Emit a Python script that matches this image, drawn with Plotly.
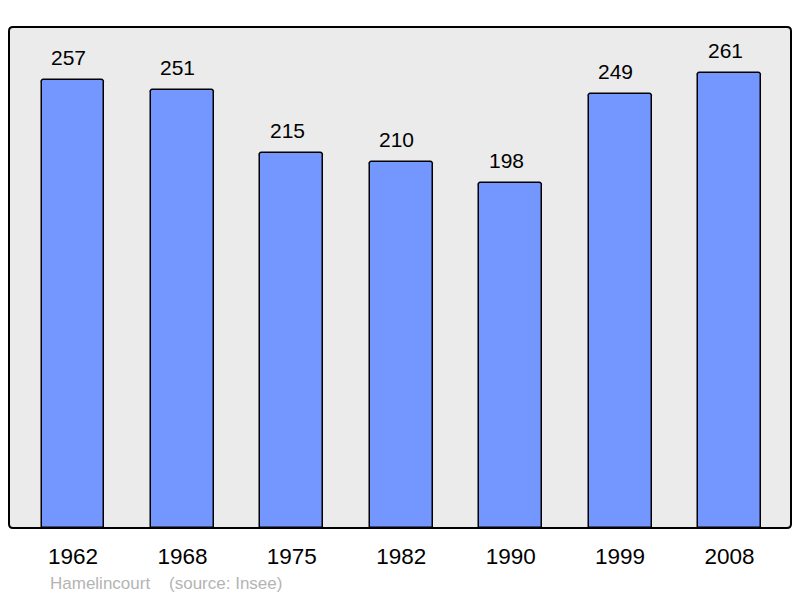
import plotly.graph_objects as go

years = ["1962", "1968", "1975", "1982", "1990", "1999", "2008"]
population = [257, 251, 215, 210, 198, 249, 261]
source_text = "Hamelincourt\u00a0\u00a0\u00a0\u00a0(source: Insee)"

xpos = list(range(len(years)))

fig = go.Figure()
fig.add_trace(go.Bar(
    x=xpos, y=population, width=0.575,
    marker=dict(color="#7396ff", line=dict(color="#000000", width=1.5), cornerradius=3),
    hoverinfo="skip",
))

for i, v in zip(xpos, population):
    fig.add_annotation(x=i, y=v, text=str(v), showarrow=False, yanchor="bottom",
                       yshift=9, xshift=-4.5,
                       font=dict(family="Liberation Sans, Arial", size=21, color="#000"))

fig.add_annotation(xref="paper", yref="paper", x=(48 - 9) / 782, y=-0.1098, xanchor="left",
                   yanchor="middle", text=source_text, showarrow=False,
                   font=dict(family="Liberation Sans, Arial", size=17, color="#b4b4b4"))

# rounded frame around the plot area
pw, ph, r = 782.0, 501.0, 4.0
rx, ry = r / pw, r / ph
path = (f"M {rx},0 L {1-rx},0 Q 1,0 1,{ry} L 1,{1-ry} Q 1,1 {1-rx},1 "
        f"L {rx},1 Q 0,1 0,{1-ry} L 0,{ry} Q 0,0 {rx},0 Z")
fig.add_shape(type="path", xref="paper", yref="paper", path=path,
              line=dict(color="#000", width=2), layer="above")

fig.update_layout(
    width=792, height=590,
    margin=dict(l=1, r=9, t=19, b=70),
    paper_bgcolor="#ffffff", plot_bgcolor="#ebebeb",
    showlegend=False, bargap=0,
    xaxis=dict(range=[-0.585, 6.562], tickvals=xpos, ticktext=years, showgrid=False,
               zeroline=False, showline=False, ticks="outside", ticklen=8,
               tickcolor="rgba(0,0,0,0)",
               tickfont=dict(family="Liberation Sans, Arial", size=22.5, color="#000")),
    yaxis=dict(range=[0, 287.4], visible=False, showgrid=False, zeroline=False),
)

fig.write_html("out.html")
